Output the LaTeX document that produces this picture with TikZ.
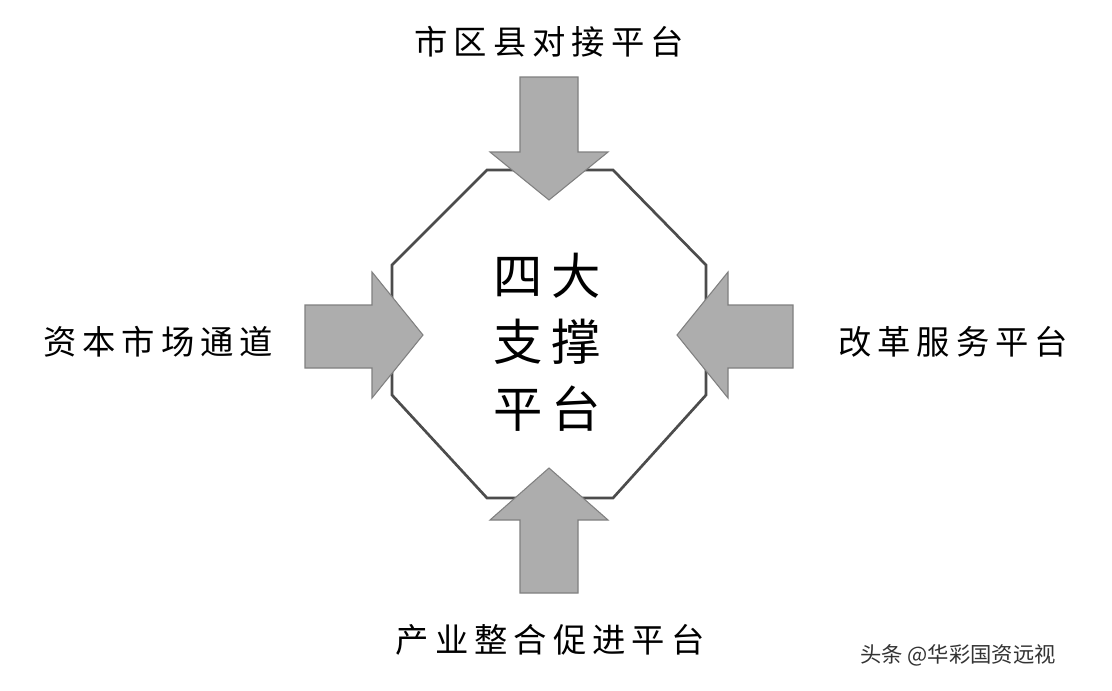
\documentclass[tikz,border=0pt]{standalone}
\usepackage{fontspec}
\newfontfamily\cjk[LetterSpace=18]{Noto Sans CJK SC}
\newfontfamily\cjkw{Noto Sans CJK SC}
\begin{document}
\begin{tikzpicture}[x=0.75pt,y=-0.75pt,
  arr/.style={fill=black!32,draw=black!50,line width=0.8pt},
  lab/.style={font=\cjk\fontsize{25}{30}\selectfont,inner sep=0pt},
  mid/.style={font=\cjk\fontsize{37}{50}\selectfont,inner sep=0pt,align=center}]
\useasboundingbox[fill=white] (0,0) rectangle (1112,690);
\draw[black!70,line width=2pt] (487,170) -- (613,170) -- (706,265) -- (706,395) -- (613,498) -- (487,498) -- (392,395) -- (392,265) -- cycle;
% top
\draw[arr] (520,77) -- (578,77) -- (578,152) -- (608,152) -- (549,200) -- (490,152) -- (520,152) -- cycle;
% bottom
\draw[arr] (520,593) -- (578,593) -- (578,520) -- (608,520) -- (549,468) -- (490,520) -- (520,520) -- cycle;
% left
\draw[arr] (305,305) -- (372,305) -- (372,272) -- (423,335) -- (372,398) -- (372,368) -- (305,368) -- cycle;
% right
\draw[arr] (793,305) -- (728,305) -- (728,272) -- (677,335) -- (728,398) -- (728,368) -- (793,368) -- cycle;
\node[lab] (t) at (549,42) {市区县对接平台};
\node[lab] (l) at (158,342) {资本市场通道};
\node[lab] (r) at (953,342) {改革服务平台};
\node[lab] (b) at (550,640) {产业整合促进平台};
\node[mid] (c) at (547,342) {四大\\支撑\\平台};
\node[font=\cjkw\fontsize{16}{20}\selectfont,black!80] (w) at (958,655) {头条 @华彩国资远视};
\end{tikzpicture}
\end{document}
